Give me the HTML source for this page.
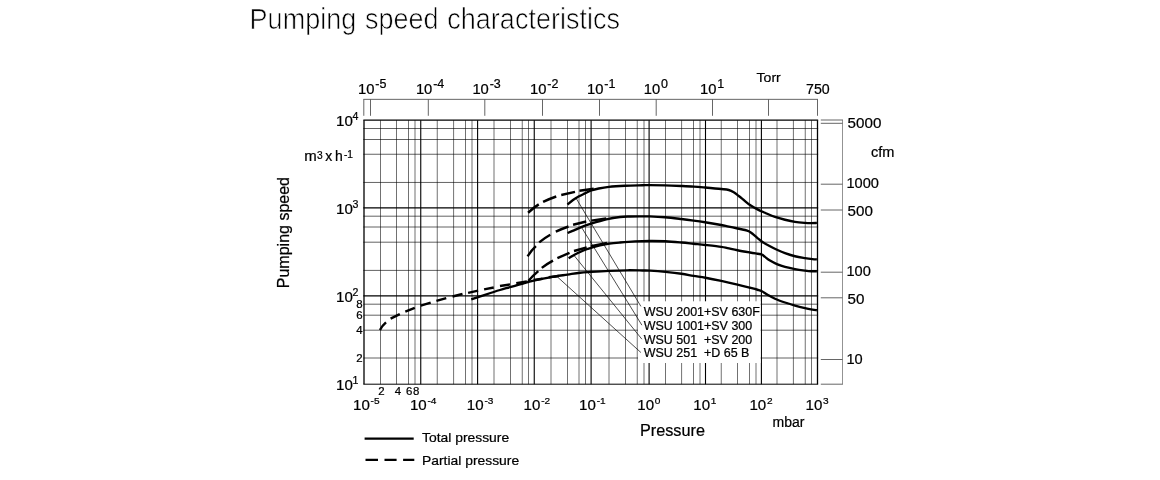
<!DOCTYPE html>
<html>
<head>
<meta charset="utf-8">
<title>Pumping speed characteristics</title>
<style>
html,body{margin:0;padding:0;background:#fff;}
body{width:1160px;height:480px;overflow:hidden;font-family:"Liberation Sans", sans-serif;}
svg{display:block;}
</style>
</head>
<body>
<svg width="1160" height="480" viewBox="0 0 1160 480">
<rect x="0" y="0" width="1160" height="480" fill="#fff"/>
<g id="grid" fill="none">
<line x1="364.00" y1="120.20" x2="364.00" y2="384.20" stroke="#000" stroke-width="1.3" />
<line x1="380.50" y1="120.20" x2="380.50" y2="384.20" stroke="#000" stroke-width="0.56" />
<line x1="396.50" y1="120.20" x2="396.50" y2="384.20" stroke="#000" stroke-width="0.56" />
<line x1="408.50" y1="120.20" x2="408.50" y2="384.20" stroke="#000" stroke-width="0.56" />
<line x1="415.00" y1="120.20" x2="415.00" y2="384.20" stroke="#000" stroke-width="0.56" />
<line x1="420.75" y1="120.20" x2="420.75" y2="384.20" stroke="#000" stroke-width="1.1" />
<line x1="437.25" y1="120.20" x2="437.25" y2="384.20" stroke="#000" stroke-width="0.56" />
<line x1="453.60" y1="120.20" x2="453.60" y2="384.20" stroke="#000" stroke-width="0.56" />
<line x1="465.50" y1="120.20" x2="465.50" y2="384.20" stroke="#000" stroke-width="0.56" />
<line x1="472.00" y1="120.20" x2="472.00" y2="384.20" stroke="#000" stroke-width="0.56" />
<line x1="477.60" y1="120.20" x2="477.60" y2="384.20" stroke="#000" stroke-width="1.1" />
<line x1="494.00" y1="120.20" x2="494.00" y2="384.20" stroke="#000" stroke-width="0.56" />
<line x1="510.50" y1="120.20" x2="510.50" y2="384.20" stroke="#000" stroke-width="0.56" />
<line x1="522.25" y1="120.20" x2="522.25" y2="384.20" stroke="#000" stroke-width="0.56" />
<line x1="528.50" y1="120.20" x2="528.50" y2="384.20" stroke="#000" stroke-width="0.56" />
<line x1="534.25" y1="120.20" x2="534.25" y2="384.20" stroke="#000" stroke-width="1.1" />
<line x1="551.00" y1="120.20" x2="551.00" y2="384.20" stroke="#000" stroke-width="0.56" />
<line x1="567.50" y1="120.20" x2="567.50" y2="384.20" stroke="#000" stroke-width="0.56" />
<line x1="579.00" y1="120.20" x2="579.00" y2="384.20" stroke="#000" stroke-width="0.56" />
<line x1="585.50" y1="120.20" x2="585.50" y2="384.20" stroke="#000" stroke-width="0.56" />
<line x1="591.10" y1="120.20" x2="591.10" y2="384.20" stroke="#000" stroke-width="1.1" />
<line x1="609.00" y1="120.20" x2="609.00" y2="384.20" stroke="#000" stroke-width="0.56" />
<line x1="625.50" y1="120.20" x2="625.50" y2="384.20" stroke="#000" stroke-width="0.56" />
<line x1="637.25" y1="120.20" x2="637.25" y2="384.20" stroke="#000" stroke-width="0.56" />
<line x1="644.00" y1="120.20" x2="644.00" y2="384.20" stroke="#000" stroke-width="0.56" />
<line x1="649.10" y1="120.20" x2="649.10" y2="384.20" stroke="#000" stroke-width="1.1" />
<line x1="665.50" y1="120.20" x2="665.50" y2="384.20" stroke="#000" stroke-width="0.56" />
<line x1="681.60" y1="120.20" x2="681.60" y2="384.20" stroke="#000" stroke-width="0.56" />
<line x1="693.50" y1="120.20" x2="693.50" y2="384.20" stroke="#000" stroke-width="0.56" />
<line x1="700.00" y1="120.20" x2="700.00" y2="384.20" stroke="#000" stroke-width="0.56" />
<line x1="705.50" y1="120.20" x2="705.50" y2="384.20" stroke="#000" stroke-width="1.1" />
<line x1="721.25" y1="120.20" x2="721.25" y2="384.20" stroke="#000" stroke-width="0.56" />
<line x1="737.50" y1="120.20" x2="737.50" y2="384.20" stroke="#000" stroke-width="0.56" />
<line x1="749.50" y1="120.20" x2="749.50" y2="384.20" stroke="#000" stroke-width="0.56" />
<line x1="756.00" y1="120.20" x2="756.00" y2="384.20" stroke="#000" stroke-width="0.56" />
<line x1="761.40" y1="120.20" x2="761.40" y2="384.20" stroke="#000" stroke-width="1.1" />
<line x1="777.00" y1="120.20" x2="777.00" y2="384.20" stroke="#000" stroke-width="0.56" />
<line x1="793.40" y1="120.20" x2="793.40" y2="384.20" stroke="#000" stroke-width="0.56" />
<line x1="805.25" y1="120.20" x2="805.25" y2="384.20" stroke="#000" stroke-width="0.56" />
<line x1="811.50" y1="120.20" x2="811.50" y2="384.20" stroke="#000" stroke-width="0.56" />
<line x1="817.50" y1="120.20" x2="817.50" y2="384.20" stroke="#000" stroke-width="1.3" />
<line x1="363.35" y1="120.20" x2="818.15" y2="120.20" stroke="#000" stroke-width="1.3" />
<line x1="363.35" y1="128.50" x2="818.15" y2="128.50" stroke="#000" stroke-width="0.62" />
<line x1="363.35" y1="139.50" x2="818.15" y2="139.50" stroke="#000" stroke-width="0.62" />
<line x1="363.35" y1="154.25" x2="818.15" y2="154.25" stroke="#000" stroke-width="0.62" />
<line x1="363.35" y1="182.45" x2="818.15" y2="182.45" stroke="#000" stroke-width="0.62" />
<line x1="363.35" y1="207.80" x2="818.15" y2="207.80" stroke="#000" stroke-width="1.15" />
<line x1="363.35" y1="216.20" x2="818.15" y2="216.20" stroke="#000" stroke-width="0.62" />
<line x1="363.35" y1="227.00" x2="818.15" y2="227.00" stroke="#000" stroke-width="0.62" />
<line x1="363.35" y1="242.20" x2="818.15" y2="242.20" stroke="#000" stroke-width="0.62" />
<line x1="363.35" y1="270.40" x2="818.15" y2="270.40" stroke="#000" stroke-width="0.62" />
<line x1="363.35" y1="295.80" x2="818.15" y2="295.80" stroke="#000" stroke-width="1.15" />
<line x1="363.35" y1="304.20" x2="818.15" y2="304.20" stroke="#000" stroke-width="0.62" />
<line x1="363.35" y1="315.20" x2="818.15" y2="315.20" stroke="#000" stroke-width="0.62" />
<line x1="363.35" y1="330.20" x2="818.15" y2="330.20" stroke="#000" stroke-width="0.62" />
<line x1="363.35" y1="358.00" x2="818.15" y2="358.00" stroke="#000" stroke-width="0.62" />
<line x1="363.35" y1="384.20" x2="818.15" y2="384.20" stroke="#000" stroke-width="1.0" />
</g>
<g id="topaxis" fill="none">
<line x1="363.35" y1="99.35" x2="817.95" y2="99.35" stroke="#555" stroke-width="0.9" />
<line x1="363.80" y1="99.35" x2="363.80" y2="115.80" stroke="#555" stroke-width="0.9" />
<line x1="370.50" y1="99.35" x2="370.50" y2="115.80" stroke="#555" stroke-width="0.9" />
<line x1="428.30" y1="99.35" x2="428.30" y2="115.80" stroke="#555" stroke-width="0.9" />
<line x1="484.80" y1="99.35" x2="484.80" y2="115.80" stroke="#555" stroke-width="0.9" />
<line x1="542.50" y1="99.35" x2="542.50" y2="115.80" stroke="#555" stroke-width="0.9" />
<line x1="599.50" y1="99.35" x2="599.50" y2="115.80" stroke="#555" stroke-width="0.9" />
<line x1="656.20" y1="99.35" x2="656.20" y2="115.80" stroke="#555" stroke-width="0.9" />
<line x1="712.50" y1="99.35" x2="712.50" y2="115.80" stroke="#555" stroke-width="0.9" />
<line x1="768.50" y1="99.35" x2="768.50" y2="115.80" stroke="#555" stroke-width="0.9" />
<line x1="817.50" y1="99.35" x2="817.50" y2="115.80" stroke="#555" stroke-width="0.9" />
</g>
<g id="rightaxis" fill="none">
<line x1="842.50" y1="119.55" x2="842.50" y2="384.65" stroke="#777" stroke-width="0.8" />
<line x1="820.80" y1="120.00" x2="842.50" y2="120.00" stroke="#555" stroke-width="0.9" />
<line x1="820.80" y1="123.30" x2="842.50" y2="123.30" stroke="#555" stroke-width="0.9" />
<line x1="820.80" y1="184.20" x2="842.50" y2="184.20" stroke="#555" stroke-width="0.9" />
<line x1="820.80" y1="210.00" x2="842.50" y2="210.00" stroke="#555" stroke-width="0.9" />
<line x1="820.80" y1="272.20" x2="842.50" y2="272.20" stroke="#555" stroke-width="0.9" />
<line x1="820.80" y1="297.80" x2="842.50" y2="297.80" stroke="#555" stroke-width="0.9" />
<line x1="820.80" y1="359.50" x2="842.50" y2="359.50" stroke="#555" stroke-width="0.9" />
<line x1="820.80" y1="384.20" x2="842.50" y2="384.20" stroke="#555" stroke-width="0.9" />
</g>
<g id="curves" fill="none" stroke="#000" stroke-width="2.35" stroke-linejoin="round">
<path d="M567.50,204.60 C568.42,203.83 571.08,201.38 573.00,200.00 C574.92,198.62 577.00,197.40 579.00,196.30 C581.00,195.20 582.96,194.37 585.00,193.40 C587.04,192.43 588.96,191.32 591.25,190.50 C593.54,189.68 595.83,189.10 598.75,188.50 C601.67,187.90 604.38,187.36 608.75,186.90 C613.12,186.44 619.38,186.03 625.00,185.75 C630.62,185.47 638.43,185.36 642.50,185.25 C646.57,185.14 645.65,185.07 649.40,185.10 C653.15,185.12 659.69,185.25 665.00,185.40 C670.31,185.55 676.46,185.80 681.25,186.00 C686.04,186.20 689.79,186.35 693.75,186.60 C697.71,186.85 700.42,187.10 705.00,187.50 C709.58,187.90 717.29,188.58 721.25,189.00 C725.21,189.42 726.67,189.46 728.75,190.00 C730.83,190.54 732.08,191.25 733.75,192.25 C735.42,193.25 737.08,194.71 738.75,196.00 C740.42,197.29 741.88,198.50 743.75,200.00 C745.62,201.50 747.71,203.43 750.00,205.00 C752.29,206.57 755.00,208.11 757.50,209.40 C760.00,210.69 762.08,211.50 765.00,212.75 C767.92,214.00 771.67,215.73 775.00,216.90 C778.33,218.07 781.67,218.92 785.00,219.75 C788.33,220.58 791.67,221.38 795.00,221.90 C798.33,222.43 802.29,222.70 805.00,222.90 C807.71,223.10 809.27,223.10 811.25,223.10 C813.23,223.10 815.96,222.93 816.90,222.90"/>
<path d="M567.60,233.00 C568.67,232.55 571.73,231.27 574.00,230.30 C576.27,229.33 578.38,228.30 581.25,227.20 C584.12,226.10 587.08,225.00 591.25,223.70 C595.42,222.40 601.46,220.52 606.25,219.40 C611.04,218.28 616.04,217.48 620.00,217.00 C623.96,216.52 626.25,216.60 630.00,216.50 C633.75,216.40 639.27,216.42 642.50,216.40 C645.73,216.38 645.65,216.26 649.40,216.40 C653.15,216.54 659.69,216.82 665.00,217.25 C670.31,217.68 676.46,218.44 681.25,219.00 C686.04,219.56 689.79,220.06 693.75,220.60 C697.71,221.14 700.42,221.52 705.00,222.25 C709.58,222.98 717.50,224.32 721.25,225.00 C725.00,225.68 724.79,225.72 727.50,226.30 C730.21,226.88 734.58,227.88 737.50,228.50 C740.42,229.12 743.12,229.54 745.00,230.00 C746.88,230.46 747.50,230.62 748.75,231.25 C750.00,231.88 751.04,232.61 752.50,233.75 C753.96,234.89 755.83,236.74 757.50,238.10 C759.17,239.46 760.42,240.54 762.50,241.90 C764.58,243.26 767.50,244.90 770.00,246.25 C772.50,247.60 775.00,248.86 777.50,250.00 C780.00,251.14 782.08,252.06 785.00,253.10 C787.92,254.14 791.67,255.42 795.00,256.25 C798.33,257.08 802.08,257.62 805.00,258.10 C807.92,258.58 810.52,258.88 812.50,259.10 C814.48,259.32 816.17,259.35 816.90,259.40"/>
<path d="M568.60,258.20 C569.67,257.58 572.89,255.62 575.00,254.50 C577.11,253.38 579.17,252.42 581.25,251.50 C583.33,250.58 585.62,249.70 587.50,249.00 C589.38,248.30 590.42,247.90 592.50,247.30 C594.58,246.70 597.18,246.02 600.00,245.40 C602.82,244.78 606.07,244.08 609.40,243.60 C612.73,243.12 615.73,242.87 620.00,242.50 C624.27,242.13 630.10,241.65 635.00,241.40 C639.90,241.15 644.33,241.03 649.40,241.00 C654.47,240.97 660.05,241.00 665.40,241.25 C670.75,241.50 676.82,242.08 681.50,242.50 C686.18,242.92 689.52,243.33 693.50,243.75 C697.48,244.17 700.77,244.47 705.40,245.00 C710.02,245.53 717.57,246.38 721.25,246.90 C724.93,247.42 724.79,247.54 727.50,248.10 C730.21,248.66 733.75,249.52 737.50,250.25 C741.25,250.98 746.67,251.92 750.00,252.50 C753.33,253.08 755.52,253.42 757.50,253.75 C759.48,254.08 760.65,253.97 761.90,254.50 C763.15,255.03 763.65,255.88 765.00,256.90 C766.35,257.92 767.92,259.35 770.00,260.60 C772.08,261.85 775.00,263.35 777.50,264.40 C780.00,265.45 782.08,266.12 785.00,266.90 C787.92,267.68 791.67,268.48 795.00,269.10 C798.33,269.72 802.29,270.24 805.00,270.60 C807.71,270.96 809.27,271.14 811.25,271.25 C813.23,271.36 815.96,271.25 816.90,271.25"/>
<path d="M471.25,299.40 C473.54,298.63 480.21,296.37 485.00,294.80 C489.79,293.23 495.83,291.27 500.00,290.00 C504.17,288.73 506.35,288.24 510.00,287.20 C513.65,286.16 517.94,284.85 521.90,283.75 C525.86,282.65 529.07,281.68 533.75,280.60 C538.43,279.53 544.38,278.30 550.00,277.30 C555.62,276.30 562.50,275.36 567.50,274.60 C572.50,273.84 576.04,273.20 580.00,272.75 C583.96,272.30 586.46,272.21 591.25,271.90 C596.04,271.59 602.71,271.17 608.75,270.90 C614.79,270.63 621.88,270.37 627.50,270.30 C633.12,270.23 638.75,270.43 642.50,270.50 C646.25,270.57 646.18,270.47 650.00,270.70 C653.82,270.93 660.15,271.39 665.40,271.90 C670.65,272.41 676.82,273.08 681.50,273.75 C686.18,274.42 689.52,275.23 693.50,275.90 C697.48,276.57 700.77,276.92 705.40,277.75 C710.02,278.58 715.90,279.76 721.25,280.90 C726.60,282.04 732.71,283.46 737.50,284.60 C742.29,285.74 746.67,286.89 750.00,287.75 C753.33,288.61 755.52,289.17 757.50,289.75 C759.48,290.33 760.23,290.42 761.90,291.25 C763.57,292.08 765.32,293.50 767.50,294.75 C769.68,296.00 772.08,297.46 775.00,298.75 C777.92,300.04 781.67,301.36 785.00,302.50 C788.33,303.64 791.67,304.67 795.00,305.60 C798.33,306.53 802.08,307.43 805.00,308.10 C807.92,308.77 810.52,309.24 812.50,309.60 C814.48,309.96 816.17,310.14 816.90,310.25"/>
<path stroke-width="2.45" d="M380.0,330.0 Q381.8,326.0 386.0,322.4"/>
<path stroke-width="2.45" d="M390.6,318.7 L399.8,314.1"/>
<path stroke-width="2.45" d="M405.3,311.6 L414.8,307.9"/>
<path stroke-width="2.45" d="M420.8,305.7 L430.7,302.6"/>
<path stroke-width="2.45" d="M436.4,300.9 L446.25,298.1"/>
<path stroke-width="2.45" d="M452.5,296.5 L462.5,294.0"/>
<path stroke-width="2.45" d="M468.1,292.9 L478.1,290.6"/>
<path stroke-width="2.45" d="M484.1,289.4 L493.75,287.5"/>
<path stroke-width="2.45" d="M500.0,286.0 L510.0,284.4"/>
<path stroke-width="2.45" d="M516.25,283.1 L526.9,281.5"/>
<path stroke-width="2.45" d="M533.75,280.0 L542.5,278.75"/>
<path stroke-width="2.45" d="M548.75,277.25 L558.75,276.0"/>
<path stroke-width="2.45" d="M528.3,281.0 Q532.6,275.8 538.3,271.1"/>
<path stroke-width="2.45" d="M541.8,267.9 Q547.0,263.8 553.0,260.6"/>
<path stroke-width="2.45" d="M557.4,258.2 L569.5,252.8"/>
<path stroke-width="2.45" d="M574.0,251.0 L586.7,247.5"/>
<path stroke-width="2.45" d="M591.0,246.3 L607.0,242.9"/>
<path stroke-width="2.45" d="M527.6,256.4 Q531.0,250.6 535.9,246.1"/>
<path stroke-width="2.45" d="M539.2,242.4 Q544.4,238.0 550.3,234.7"/>
<path stroke-width="2.45" d="M555.8,231.7 Q562.0,228.8 568.5,226.5"/>
<path stroke-width="2.45" d="M573.1,224.75 L586.25,221.5"/>
<path stroke-width="2.45" d="M591.25,220.6 L606.25,218.5"/>
<path stroke-width="2.45" d="M528.1,212.75 Q533.0,208.0 538.75,204.4"/>
<path stroke-width="2.45" d="M543.1,201.9 Q549.5,198.8 556.25,196.5"/>
<path stroke-width="2.45" d="M561.25,195.0 L575.0,191.9"/>
<path stroke-width="2.45" d="M579.4,190.8 L593.75,188.75"/>
</g>
<rect x="638.0" y="301.3" width="122.6" height="61.7" fill="#fff"/>
<g id="leaders" fill="none" stroke="#000" stroke-width="0.7">
<path d="M576.25,198.5 L640.9,306.4"/>
<path d="M581.25,226.9 L641.9,325.2"/>
<path d="M574.5,256.0 L641.9,339.2"/>
<path d="M557.5,277.0 L640.9,352.5"/>
</g>
<g id="labels" font-family='"Liberation Sans", sans-serif' stroke="#000" stroke-width="0.22">
<text transform="translate(336.00,126.00) scale(1.04,1)" font-size="14.5" fill="#000">10<tspan font-size="10.2" dx="-0.30" dy="-6.00">4</tspan></text>
<text transform="translate(336.00,213.60) scale(1.04,1)" font-size="14.5" fill="#000">10<tspan font-size="10.2" dx="-0.30" dy="-6.00">3</tspan></text>
<text transform="translate(336.00,301.60) scale(1.04,1)" font-size="14.5" fill="#000">10<tspan font-size="10.2" dx="-0.30" dy="-6.00">2</tspan></text>
<text transform="translate(336.00,390.00) scale(1.04,1)" font-size="14.5" fill="#000">10<tspan font-size="10.2" dx="-0.30" dy="-6.00">1</tspan></text>
<text transform="translate(362.70,308.20) scale(1.04,1)" font-size="11.0" text-anchor="end" fill="#000" >8</text>
<text transform="translate(362.70,319.20) scale(1.04,1)" font-size="11.0" text-anchor="end" fill="#000" >6</text>
<text transform="translate(362.70,334.20) scale(1.04,1)" font-size="11.0" text-anchor="end" fill="#000" >4</text>
<text transform="translate(362.70,362.00) scale(1.04,1)" font-size="11.0" text-anchor="end" fill="#000" >2</text>
<text transform="translate(304.20,160.90) scale(1.07,1)" font-size="14" text-anchor="start" fill="#000" >m</text>
<text transform="translate(317.00,158.90) scale(1.0,1)" font-size="10.2" text-anchor="start" fill="#000" >3</text>
<text transform="translate(325.30,160.90) scale(1.0,1)" font-size="14" text-anchor="start" fill="#000" >x</text>
<text transform="translate(335.00,160.90) scale(1.0,1)" font-size="14" text-anchor="start" fill="#000" >h</text>
<text transform="translate(343.90,158.30) scale(1.0,1)" font-size="10.2" text-anchor="start" fill="#000" >-</text>
<text transform="translate(347.30,158.30) scale(1.0,1)" font-size="10.2" text-anchor="start" fill="#000" >1</text>
<text transform="translate(288.9,288.2) rotate(-90)" font-size="16" fill="#000">Pumping speed</text>
<text transform="translate(381.50,394.80) scale(1.04,1)" font-size="11.0" text-anchor="middle" fill="#000" >2</text>
<text transform="translate(398.00,394.80) scale(1.04,1)" font-size="11.0" text-anchor="middle" fill="#000" >4</text>
<text transform="translate(409.10,394.80) scale(1.04,1)" font-size="11.0" text-anchor="middle" fill="#000" >6</text>
<text transform="translate(416.10,394.80) scale(1.04,1)" font-size="11.0" text-anchor="middle" fill="#000" >8</text>
<text transform="translate(353.02,410.30) scale(1.04,1)" font-size="14.5" fill="#000">10<tspan font-size="9.7" dx="0.80" dy="-6.40">-5</tspan></text>
<text transform="translate(409.92,410.30) scale(1.04,1)" font-size="14.5" fill="#000">10<tspan font-size="9.7" dx="0.80" dy="-6.40">-4</tspan></text>
<text transform="translate(466.82,410.30) scale(1.04,1)" font-size="14.5" fill="#000">10<tspan font-size="9.7" dx="0.80" dy="-6.40">-3</tspan></text>
<text transform="translate(523.62,410.30) scale(1.04,1)" font-size="14.5" fill="#000">10<tspan font-size="9.7" dx="0.80" dy="-6.40">-2</tspan></text>
<text transform="translate(579.12,410.30) scale(1.04,1)" font-size="14.5" fill="#000">10<tspan font-size="9.7" dx="0.80" dy="-6.40">-1</tspan></text>
<text transform="translate(637.27,410.30) scale(1.04,1)" font-size="14.5" fill="#000">10<tspan font-size="9.7" dx="0.80" dy="-6.40">0</tspan></text>
<text transform="translate(693.27,410.30) scale(1.04,1)" font-size="14.5" fill="#000">10<tspan font-size="9.7" dx="0.80" dy="-6.40">1</tspan></text>
<text transform="translate(749.42,410.30) scale(1.04,1)" font-size="14.5" fill="#000">10<tspan font-size="9.7" dx="0.80" dy="-6.40">2</tspan></text>
<text transform="translate(805.52,410.30) scale(1.04,1)" font-size="14.5" fill="#000">10<tspan font-size="9.7" dx="0.80" dy="-6.40">3</tspan></text>
<text transform="translate(358.12,93.90) scale(1.04,1)" font-size="14.2" fill="#000">10<tspan font-size="12.0" dx="0.80" dy="-6.00">-5</tspan></text>
<text transform="translate(415.92,93.90) scale(1.04,1)" font-size="14.2" fill="#000">10<tspan font-size="12.0" dx="0.80" dy="-6.00">-4</tspan></text>
<text transform="translate(472.42,93.90) scale(1.04,1)" font-size="14.2" fill="#000">10<tspan font-size="12.0" dx="0.80" dy="-6.00">-3</tspan></text>
<text transform="translate(530.12,93.90) scale(1.04,1)" font-size="14.2" fill="#000">10<tspan font-size="12.0" dx="0.80" dy="-6.00">-2</tspan></text>
<text transform="translate(587.12,93.90) scale(1.04,1)" font-size="14.2" fill="#000">10<tspan font-size="12.0" dx="0.80" dy="-6.00">-1</tspan></text>
<text transform="translate(643.82,93.90) scale(1.04,1)" font-size="14.2" fill="#000">10<tspan font-size="12.0" dx="0.80" dy="-6.00">0</tspan></text>
<text transform="translate(700.12,93.90) scale(1.04,1)" font-size="14.2" fill="#000">10<tspan font-size="12.0" dx="0.80" dy="-6.00">1</tspan></text>
<text transform="translate(756.60,81.70) scale(1.04,1)" font-size="13.5" text-anchor="start" fill="#000" >Torr</text>
<text transform="translate(806.00,93.60) scale(1.0,1)" font-size="14.2" text-anchor="start" fill="#000" >750</text>
<text transform="translate(847.60,127.80) scale(1.04,1)" font-size="14.6" text-anchor="start" fill="#000" >5000</text>
<text transform="translate(846.40,188.40) scale(1.0,1)" font-size="14.6" text-anchor="start" fill="#000" >1000</text>
<text transform="translate(847.60,215.80) scale(1.04,1)" font-size="14.6" text-anchor="start" fill="#000" >500</text>
<text transform="translate(846.40,276.20) scale(1.0,1)" font-size="14.6" text-anchor="start" fill="#000" >100</text>
<text transform="translate(847.60,303.70) scale(1.04,1)" font-size="14.6" text-anchor="start" fill="#000" >50</text>
<text transform="translate(846.40,363.80) scale(1.0,1)" font-size="14.6" text-anchor="start" fill="#000" >10</text>
<text transform="translate(870.90,156.70) scale(1.04,1)" font-size="14" text-anchor="start" fill="#000" >cfm</text>
<text transform="translate(640.00,436.30) scale(1.015,1)" font-size="16" text-anchor="start" fill="#000" >Pressure</text>
<text transform="translate(772.60,426.90) scale(1.0,1)" font-size="14" text-anchor="start" fill="#000" >mbar</text>
<text transform="translate(643.7,316.00) scale(1.04,1)" font-size="12.0" fill="#000" xml:space="preserve">WSU 2001+SV 630F</text>
<text transform="translate(643.7,329.80) scale(1.04,1)" font-size="12.0" fill="#000" xml:space="preserve">WSU 1001+SV 300</text>
<text transform="translate(643.7,343.60) scale(1.04,1)" font-size="12.0" fill="#000" xml:space="preserve">WSU 501  +SV 200</text>
<text transform="translate(643.7,357.40) scale(1.04,1)" font-size="12.0" fill="#000" xml:space="preserve">WSU 251  +D 65 B</text>
<text transform="translate(422.00,442.10) scale(1.04,1)" font-size="13.35" text-anchor="start" fill="#000" >Total pressure</text>
<text transform="translate(422.00,465.00) scale(1.04,1)" font-size="13.35" text-anchor="start" fill="#000" >Partial pressure</text>
</g>
<g id="legend" fill="none" stroke="#000" stroke-width="2.2">
<path d="M364.6,438.6 L413.7,438.6"/>
<path d="M365.5,459.9 L378.0,459.9 M384.5,459.9 L396.6,459.9 M403.1,459.9 L414.3,459.9"/>
</g>
<text id="title" font-family='"Liberation Sans", sans-serif' font-size="28.6" fill="#000" stroke="#fff" stroke-width="0.68" word-spacing="1.3" transform="translate(249.6,28.5) scale(0.945,1)">Pumping speed characteristics</text>
</svg>
</body>
</html>
